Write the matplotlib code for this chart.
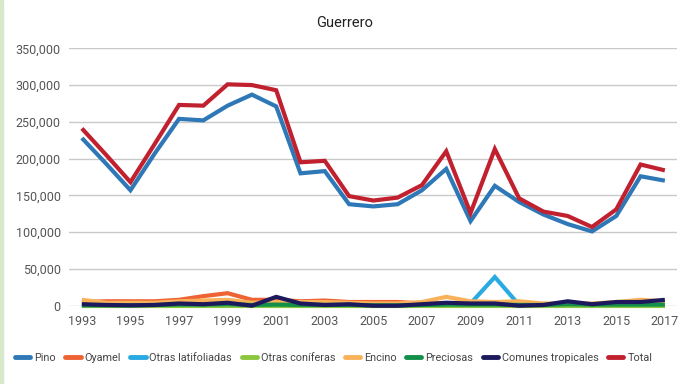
import matplotlib
matplotlib.use("Agg")
import matplotlib.pyplot as plt
from matplotlib.patches import Rectangle
from matplotlib.ticker import FuncFormatter

years = list(range(1993, 2018))

pino = [228000, 193000, 157000, 207000, 254000, 252000, 272000, 287000, 271000, 180000,
        183000, 138000, 135000, 138000, 157000, 186000, 115000, 163000, 141000, 124000,
        111000, 101000, 122000, 176000, 170000]
oyamel = [5000, 6000, 6000, 6000, 8000, 13000, 17000, 8000, 8000, 6000,
          7000, 5000, 5000, 5000, 3000, 3000, 2000, 2000, 1000, 1000,
          1000, 1000, 1000, 1000, 1000]
otras_latifoliadas = [0, 0, 0, 0, 0, 0, 0, 0, 0, 0,
                      0, 0, 0, 0, 0, 0, 3000, 39000, 1000, 0,
                      0, 0, 0, 0, 0]
otras_coniferas = [0] * 25
encino = [8000, 4000, 4000, 4000, 6000, 7000, 8000, 4000, 5000, 5000,
          5000, 4000, 3000, 3000, 5000, 12000, 6000, 5000, 6000, 3000,
          3000, 3000, 5000, 8000, 6000]
preciosas = [500, 500, 500, 1000, 1500, 1500, 2000, 1000, 1500, 1000,
             1000, 1000, 500, 500, 1000, 1500, 1500, 1500, 1000, 1000,
             2000, 1500, 1500, 1500, 1500]
comunes_tropicales = [2000, 1000, 500, 1000, 3000, 2000, 4000, 0, 12000, 3000,
                      1000, 2000, 0, 0, 2000, 4000, 3000, 3000, 0, 1000,
                      6000, 2000, 5000, 5000, 8000]
total = [241000, 205000, 168000, 220000, 273000, 272000, 301000, 300000, 293000, 195000,
         197000, 149000, 143000, 147000, 164000, 210000, 126000, 213000, 146000, 128000,
         122000, 107000, 131000, 192000, 184000]

series = [
    ("Pino", pino, "#2E78B7"),
    ("Oyamel", oyamel, "#EE6234"),
    ("Otras latifoliadas", otras_latifoliadas, "#2AAAE2"),
    ("Otras coníferas", otras_coniferas, "#8CC63F"),
    ("Encino", encino, "#F9B25A"),
    ("Preciosas", preciosas, "#12904A"),
    ("Comunes tropicales", comunes_tropicales, "#1C1A5C"),
    ("Total", total, "#C1212F"),
]
xticks = list(range(1993, 2018, 2))
yticks = [0, 50000, 100000, 150000, 200000, 250000, 300000, 350000]

FONT = ["Roboto", "DejaVu Sans"]
plt.rcParams["font.family"] = FONT

fig = plt.figure(figsize=(7.0, 3.84), dpi=100)
fig.patches.append(Rectangle((0, 0), 3 / 700, 1, transform=fig.transFigure,
                             color="#D6E9C9", zorder=0))
ax = fig.add_axes([69 / 700, 1 - 305.7 / 384, 608 / 700, (305.7 - 48.3) / 384])

for name, vals, col in series:
    ax.plot(years, vals, color=col, lw=3.0, label=name, solid_joinstyle="miter",
            solid_capstyle="butt", clip_on=False)

ax.set_xlim(1992.47, 2017.5)
ax.set_ylim(0, 350000)
ax.set_xticks(xticks)
ax.set_yticks(yticks)
ax.yaxis.set_major_formatter(FuncFormatter(lambda v, p: f"{int(v):,}"))
ax.grid(axis="y", color="#C9C9C9", lw=1.0)
ax.set_axisbelow(True)
for s in ax.spines.values():
    s.set_visible(False)
ax.tick_params(length=0, labelsize=9, colors="#555555", pad=7)
ax.tick_params(axis="y", pad=6)

fig.text(345 / 700, 1 - 23 / 384, "Guerrero", ha="center", va="center",
         fontsize=10.5, color="#222222")

leg = ax.legend(loc="center left", bbox_to_anchor=(15 / 700, 1 - 358 / 384),
                bbox_transform=fig.transFigure, ncol=8, frameon=False,
                fontsize=7.8, handlelength=1.4, handletextpad=0.35, columnspacing=0.9,
                labelcolor="#444444", borderpad=0, borderaxespad=0)
for h in leg.get_lines():
    h.set_linewidth(3.5)
    h.set_solid_capstyle("round")

fig.savefig("out.png", dpi=100)
